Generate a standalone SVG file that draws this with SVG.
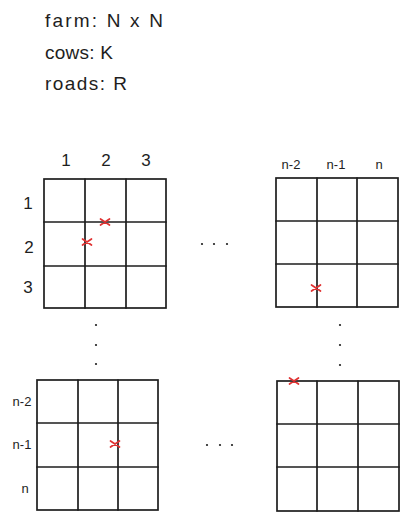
<svg xmlns="http://www.w3.org/2000/svg" width="408" height="520" viewBox="0 0 408 520">
<style>
.t{font-family:"Liberation Sans","DejaVu Sans",sans-serif;fill:#1e1e1e}
.h{font-size:19px}
.lab{font-size:17px;text-anchor:middle}
.sm{font-size:13px;text-anchor:middle}
.g{fill:none;stroke:#1e1e1e;stroke-width:1.7;stroke-linecap:round}
.x{fill:none;stroke:#e03131;stroke-width:1.7;stroke-linecap:round}
.d{fill:#1e1e1e}
</style>
<defs>
<g id="cross"><path class="x" d="M-4.5,-3 L4.5,3 M-4.5,3 L4.5,-3"/></g>
</defs>
<rect width="408" height="520" fill="#ffffff"/>
<g id="header">
<text class="t h" x="45" y="27" textLength="118" lengthAdjust="spacing">farm: N x N</text>
<text class="t h" x="45" y="59" textLength="68" lengthAdjust="spacing">cows: K</text>
<text class="t h" x="45" y="90" textLength="82" lengthAdjust="spacing">roads: R</text>
</g>
<g id="grid-top-left">
<rect class="g" x="44" y="179" width="122" height="129"/>
<path class="g" d="M85,179V308M126,179V308M44,222H166M44,266H166"/>
<text class="t lab" x="66" y="166">1</text>
<text class="t lab" x="106" y="166">2</text>
<text class="t lab" x="146" y="166">3</text>
<text class="t lab" x="28" y="209">1</text>
<text class="t lab" x="29" y="253">2</text>
<text class="t lab" x="28" y="293">3</text>
<use href="#cross" x="105" y="222"/>
<use href="#cross" x="87" y="242"/>
</g>
<g id="grid-top-right">
<rect class="g" x="276" y="178" width="122" height="129"/>
<path class="g" d="M317,178V307M357,178V307M276,221H398M276,264H398"/>
<text class="t sm" x="291" y="169">n-2</text>
<text class="t sm" x="336" y="169">n-1</text>
<text class="t sm" x="379" y="169">n</text>
<use href="#cross" x="316" y="288"/>
</g>
<g id="grid-bottom-left">
<rect class="g" x="37" y="380" width="121" height="130"/>
<path class="g" d="M78,380V510M118,380V510M37,423H158M37,467H158"/>
<text class="t sm" x="22" y="406">n-2</text>
<text class="t sm" x="22" y="449">n-1</text>
<text class="t sm" x="25" y="493">n</text>
<use href="#cross" x="115" y="444"/>
</g>
<g id="grid-bottom-right">
<rect class="g" x="277" y="381" width="122" height="130"/>
<path class="g" d="M317,381V511M358,381V511M277,424H399M277,467H399"/>
<use href="#cross" x="294" y="381"/>
</g>
<g id="ellipses">
<circle class="d" cx="202" cy="244" r="1.1"/>
<circle class="d" cx="214" cy="244" r="1.1"/>
<circle class="d" cx="227" cy="244" r="1.1"/>
<circle class="d" cx="207" cy="445" r="1.1"/>
<circle class="d" cx="220" cy="445" r="1.1"/>
<circle class="d" cx="232" cy="445" r="1.1"/>
<circle class="d" cx="96" cy="325" r="1.1"/>
<circle class="d" cx="96" cy="345" r="1.1"/>
<circle class="d" cx="96" cy="364" r="1.1"/>
<circle class="d" cx="340" cy="325" r="1.1"/>
<circle class="d" cx="340" cy="345" r="1.1"/>
<circle class="d" cx="340" cy="365" r="1.1"/>
</g>
</svg>
